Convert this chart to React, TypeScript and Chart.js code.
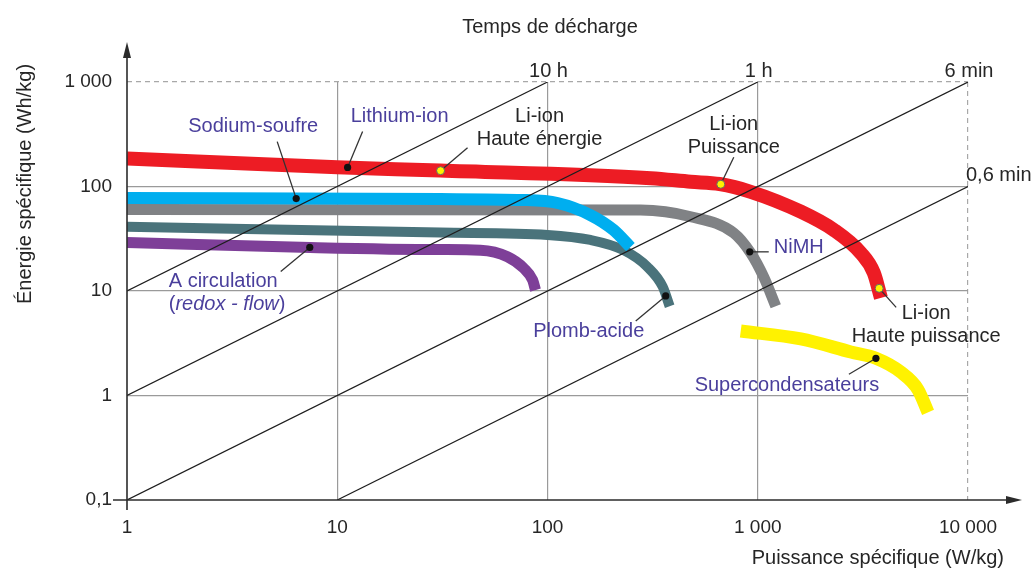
import React, { useEffect, useRef } from 'react';
import { Chart, registerables } from 'chart.js';

Chart.register(...registerables);

const FONT = "'Liberation Sans', Arial, Helvetica, sans-serif";
const FS = 20;
const TICK_FS = 19;
const TEXT = '#262626';
const NAME = '#4a3f9c';

// Axis ticks
const xTickValues = [1, 10, 100, 1000, 10000];
const xTickLabels = ['1', '10', '100', '1 000', '10 000'];
const yTickValues = [0.1, 1, 10, 100, 1000];
const yTickLabels = ['0,1', '1', '10', '100', '1 000'];

// Discharge-time reference lines (start / end points)
const dischargeLabels = ['10 h', '1 h', '6 min', '0,6 min'];
const dischargeP = [[1, 100], [1, 1000], [1, 10000], [10, 10000]];
const dischargeE = [[10, 1000], [1, 1000], [0.1, 1000], [0.1, 100]];

// Technologies: specific power (W/kg) and specific energy (Wh/kg)
const liIonP = [1, 10, 30.9, 310, 480, 659, 926, 1603, 2301, 3091, 3565, 3853];
const liIonE = [185, 153, 142, 120, 111, 105.6, 89, 57.4, 38.4, 23.1, 14.9, 8.6];

const naSP = [1, 30.9, 76.9, 111.6, 160, 206, 248];
const naSE = [77.6, 75.8, 74.3, 69.5, 53.3, 38.4, 26.3];

const nimhP = [1, 277, 480, 769, 926, 1068, 1218];
const nimhE = [60.3, 59.5, 51.4, 35.9, 23.1, 13.6, 7.15];

const leadP = [1, 30.9, 100, 160, 230, 299, 353, 381];
const leadE = [41.3, 36.2, 34.4, 30.8, 24.6, 17, 11, 7.15];

const redoxP = [1, 7.44, 30.9, 48, 64.5, 76.9, 84.9, 87.7];
const redoxE = [29.1, 26.1, 24.9, 24.6, 21.3, 16.6, 12.75, 10.2];

const supercapP = [830, 1603, 2773, 3648, 4797, 5780, 6457];
const supercapE = [4.14, 3.48, 2.61, 2.27, 1.67, 1.14, 0.69];

// Callouts: anchor on a curve (data units) + leader / text offsets (px)
type Seg = { t: string; i?: boolean };
type Callout = {
  p: number; e: number; yellow: boolean; lead: [number, number];
  text: [number, number]; align: CanvasTextAlign; color: string; lines: Seg[][];
};
const callouts: Callout[] = [
  { p: 11.2, e: 152.4, yellow: false, lead: [15, -36], text: [52, -51], align: 'center', color: NAME, lines: [[{ t: 'Lithium-ion' }]] },
  { p: 6.38, e: 76.6, yellow: false, lead: [-19, -57], text: [-43, -72], align: 'center', color: NAME, lines: [[{ t: 'Sodium-soufre' }]] },
  { p: 31, e: 141.7, yellow: true, lead: [27, -23], text: [99, -54], align: 'center', color: TEXT, lines: [[{ t: 'Li-ion' }], [{ t: 'Haute énergie' }]] },
  { p: 667, e: 105, yellow: true, lead: [13, -27], text: [13, -60], align: 'center', color: TEXT, lines: [[{ t: 'Li-ion' }], [{ t: 'Puissance' }]] },
  { p: 916, e: 23.7, yellow: false, lead: [19, 0], text: [24, -4], align: 'left', color: NAME, lines: [[{ t: 'NiMH' }]] },
  { p: 365, e: 8.97, yellow: false, lead: [-30, 25], text: [-77, 36], align: 'center', color: NAME, lines: [[{ t: 'Plomb-acide' }]] },
  { p: 7.4, e: 26.1, yellow: false, lead: [-29, 24], text: [-141, 34], align: 'left', color: NAME, lines: [[{ t: 'A circulation' }], [{ t: '(' }, { t: 'redox - flow', i: true }, { t: ')' }]] },
  { p: 3780, e: 10.6, yellow: true, lead: [17, 19], text: [47, 25], align: 'center', color: TEXT, lines: [[{ t: 'Li-ion' }], [{ t: 'Haute puissance' }]] },
  { p: 3648, e: 2.27, yellow: false, lead: [-27, 16], text: [-89, 27], align: 'center', color: NAME, lines: [[{ t: 'Supercondensateurs' }]] },
];

const xTitle = 'Puissance spécifique (W/kg)';
const yTitle = 'Énergie spécifique (Wh/kg)';
const topTitle = 'Temps de décharge';

const pts = (P: number[], E: number[]) => P.map((p, i) => ({ x: p, y: E[i] }));

const curve = (label: string, P: number[], E: number[], color: string, width: number) => ({
  label,
  data: pts(P, E),
  borderColor: color,
  backgroundColor: color,
  borderWidth: width,
  pointRadius: 0,
  cubicInterpolationMode: 'monotone' as const,
  borderCapStyle: 'butt' as const,
  borderJoinStyle: 'round' as const,
  fill: false,
});

function drawSegs(ctx: CanvasRenderingContext2D, segs: Seg[], x: number, y: number, align: CanvasTextAlign) {
  const fontOf = (s: Seg) => `${s.i ? 'italic ' : ''}${FS}px ${FONT}`;
  let total = 0;
  segs.forEach((s) => { ctx.font = fontOf(s); total += ctx.measureText(s.t).width; });
  let cx = align === 'center' ? x - total / 2 : align === 'right' ? x - total : x;
  ctx.textAlign = 'left';
  segs.forEach((s) => { ctx.font = fontOf(s); ctx.fillText(s.t, cx, y); cx += ctx.measureText(s.t).width; });
}

const overlay = {
  id: 'overlay',
  afterDatasetsDraw(chart: any) {
    const { ctx, scales } = chart;
    const xs = scales.x, ys = scales.y;
    ctx.save();
    ctx.textBaseline = 'middle';
    // discharge labels
    ctx.fillStyle = TEXT;
    ctx.font = `${FS}px ${FONT}`;
    dischargeLabels.forEach((lab, i) => {
      const px = xs.getPixelForValue(dischargeP[i][1]);
      const py = ys.getPixelForValue(dischargeE[i][1]);
      if (i === 3) { ctx.textAlign = 'left'; ctx.fillText(lab, px - 2, py - 11); }
      else { ctx.textAlign = 'center'; ctx.fillText(lab, px + 1, py - 11); }
    });
    // callouts
    callouts.forEach((c) => {
      const px = xs.getPixelForValue(c.p);
      const py = ys.getPixelForValue(c.e);
      ctx.strokeStyle = '#333';
      ctx.lineWidth = 1.3;
      ctx.beginPath();
      ctx.moveTo(px, py);
      ctx.lineTo(px + c.lead[0], py + c.lead[1]);
      ctx.stroke();
      ctx.beginPath();
      ctx.arc(px, py, c.yellow ? 4 : 3.6, 0, Math.PI * 2);
      ctx.fillStyle = c.yellow ? '#fff200' : '#111';
      ctx.fill();
      if (c.yellow) { ctx.lineWidth = 1; ctx.strokeStyle = '#666'; ctx.stroke(); }
      ctx.fillStyle = c.color;
      c.lines.forEach((ln, k) => {
        drawSegs(ctx, ln, px + c.text[0], py + c.text[1] + k * 23, c.align);
      });
    });
    ctx.restore();
  },
  afterDraw(chart: any) {
    const { ctx, chartArea: a } = chart;
    ctx.save();
    ctx.strokeStyle = '#2b2b2b';
    ctx.fillStyle = '#2b2b2b';
    ctx.lineWidth = 1.6;
    // y axis
    ctx.beginPath();
    ctx.moveTo(a.left, a.bottom + 10);
    ctx.lineTo(a.left, a.top - 30);
    ctx.stroke();
    ctx.beginPath();
    ctx.moveTo(a.left, a.top - 40);
    ctx.lineTo(a.left - 4, a.top - 24);
    ctx.lineTo(a.left + 4, a.top - 24);
    ctx.closePath();
    ctx.fill();
    // x axis
    ctx.beginPath();
    ctx.moveTo(a.left - 14, a.bottom);
    ctx.lineTo(a.right + 44, a.bottom);
    ctx.stroke();
    ctx.beginPath();
    ctx.moveTo(a.right + 54, a.bottom);
    ctx.lineTo(a.right + 38, a.bottom - 4);
    ctx.lineTo(a.right + 38, a.bottom + 4);
    ctx.closePath();
    ctx.fill();
    // titles
    ctx.fillStyle = TEXT;
    ctx.font = `${FS}px ${FONT}`;
    ctx.textBaseline = 'middle';
    ctx.textAlign = 'center';
    ctx.fillText(topTitle, 550, 27);
    ctx.textAlign = 'right';
    ctx.fillText(xTitle, a.right + 36, a.bottom + 58);
    ctx.translate(25, 184);
    ctx.rotate(-Math.PI / 2);
    ctx.textAlign = 'center';
    ctx.fillText(yTitle, 0, 0);
    ctx.restore();
  },
};

export default function App() {
  const ref = useRef<HTMLCanvasElement | null>(null);
  useEffect(() => {
    if (!ref.current) return;
    const lineSets = dischargeLabels.map((lab, i) => ({
      label: lab,
      data: pts(dischargeP[i], dischargeE[i]),
      borderColor: '#1e1e1e',
      borderWidth: 1.2,
      pointRadius: 0,
      fill: false,
    }));
    const chart = new Chart(ref.current, {
      type: 'line',
      data: {
        datasets: [
          ...lineSets,
          curve('Sodium-soufre', naSP, naSE, '#00aeef', 12),
          curve('Li-ion', liIonP, liIonE, '#ed1c24', 14),
          curve('NiMH', nimhP, nimhE, '#808285', 11),
          curve('Plomb-acide', leadP, leadE, '#4a737b', 10),
          curve('A circulation', redoxP, redoxE, '#7e3f98', 11),
          curve('Supercondensateurs', supercapP, supercapE, '#fff200', 13),
        ] as any,
      },
      options: {
        animation: false,
        responsive: false,
        devicePixelRatio: 1,
        layout: { padding: { top: 82, right: 67, left: 0, bottom: 0 } },
        plugins: { legend: { display: false }, tooltip: { enabled: false } },
        font: { family: FONT, size: TICK_FS },
        scales: {
          x: {
            type: 'logarithmic',
            min: 1,
            max: 10000,
            afterBuildTicks: (s: any) => { s.ticks = xTickValues.map((v) => ({ value: v })); },
            afterFit: (s: any) => { s.height = 70; },
            ticks: {
              padding: 16,
              color: TEXT,
              font: { family: FONT, size: TICK_FS },
              maxRotation: 0,
              autoSkip: false,
              callback: (v: any) => xTickLabels[xTickValues.indexOf(Number(v))],
            },
            grid: {
              drawTicks: false,
              color: (c: any) => (c.tick && c.tick.value === 1 ? 'rgba(0,0,0,0)' : c.tick && c.tick.value === 10000 ? '#a8a8a8' : '#9a9a9a'),
              lineWidth: 1.2,
            },
            border: { display: false, dash: (c: any) => (c.tick && c.tick.value === 10000 ? [5, 4] : []) },
          },
          y: {
            type: 'logarithmic',
            min: 0.1,
            max: 1000,
            afterBuildTicks: (s: any) => { s.ticks = yTickValues.map((v) => ({ value: v })); },
            afterFit: (s: any) => { s.width = 127; },
            ticks: {
              padding: 15,
              color: TEXT,
              font: { family: FONT, size: TICK_FS },
              autoSkip: false,
              callback: (v: any) => yTickLabels[yTickValues.indexOf(Number(v))],
            },
            grid: {
              drawTicks: false,
              color: (c: any) => (c.tick && c.tick.value === 0.1 ? 'rgba(0,0,0,0)' : c.tick && c.tick.value === 1000 ? '#a8a8a8' : '#9a9a9a'),
              lineWidth: 1.2,
            },
            border: { display: false, dash: (c: any) => (c.tick && c.tick.value === 1000 ? [5, 4] : []) },
          },
        },
      } as any,
      plugins: [overlay],
    });
    return () => chart.destroy();
  }, []);
  return (
    <div style={{ position: 'absolute', left: 0, top: 0, width: 1035, height: 570, background: '#fff' }}>
      <canvas ref={ref} width={1035} height={570} style={{ display: 'block', width: 1035, height: 570 }} />
    </div>
  );
}
